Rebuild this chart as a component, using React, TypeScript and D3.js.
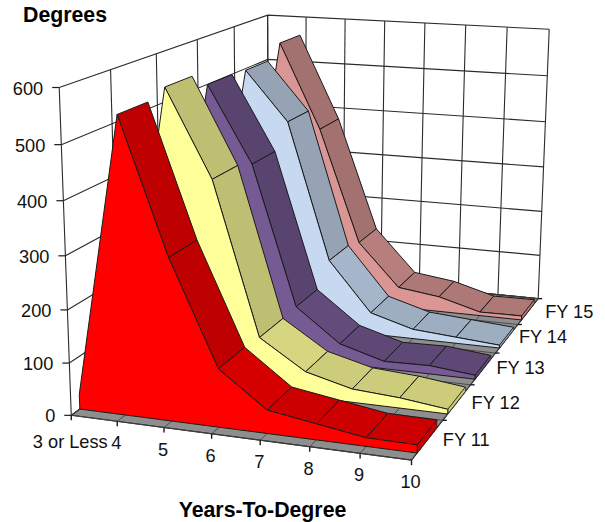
import React from "react";
import * as d3 from "d3";

const categories = ["3 or Less", "4", "5", "6", "7", "8", "9", "10"];
const seriesNames = ["FY 11", "FY 12", "FY 13", "FY 14", "FY 15"];
const fy11 = [29, 553, 305, 110, 44, 30, 16, 15];
const fy12 = [25, 568, 402, 106, 49, 26, 20, 9];
const fy13 = [25, 540, 389, 108, 41, 15, 17, 8];
const fy14 = [20, 537, 436, 150, 46, 20, 13, 6];
const fy15 = [20, 565, 383, 138, 45, 33, 8, 9];
const seriesValues = [fy11, fy12, fy13, fy14, fy15];
const frontColors = ["#FF0000", "#FFFF99", "#765A94", "#C6D9F1", "#D99694"];
const segmentShade = [0.75, 0.75, 0.75, 0.84, 0.8, 0.8, 0.8];
const valueTicks = [0, 100, 200, 300, 400, 500, 600];

// Camera fitted to the plot box corners: [x, depth, height] -> screen
const boxCorners: [number[], number[]][] = [
  [[0, 0, 0], [71, 415]],
  [[1, 0, 0], [412, 460]],
  [[1, 1, 0], [538, 299]],
  [[0, 0, 1], [59, 88]],
  [[0, 1, 1], [268, 15]],
  [[1, 1, 1], [549, 29]],
];

function solve(A: number[][], b: number[]) {
  const n = b.length;
  const M = A.map((r, i) => [...r, b[i]]);
  for (let c = 0; c < n; c++) {
    let p = c;
    for (let r = c; r < n; r++) if (Math.abs(M[r][c]) > Math.abs(M[p][c])) p = r;
    [M[c], M[p]] = [M[p], M[c]];
    for (let r = 0; r < n; r++)
      if (r !== c) {
        const f = M[r][c] / M[c][c];
        for (let k = c; k <= n; k++) M[r][k] -= f * M[c][k];
      }
  }
  return M.map((r, i) => r[n] / r[i]);
}
function fitCamera() {
  const rows: number[][] = [];
  const rhs: number[] = [];
  for (const [[x, z, y], [sx, sy]] of boxCorners) {
    rows.push([x, z, y, 1, 0, 0, 0, 0, -sx * x, -sx * z, -sx * y]);
    rhs.push(sx);
    rows.push([0, 0, 0, 0, x, z, y, 1, -sy * x, -sy * z, -sy * y]);
    rhs.push(sy);
  }
  const AtA = d3.range(11).map((i) =>
    d3.range(11).map((j) => d3.sum(rows, (r) => r[i] * r[j]) + (i === j ? 1e-6 : 0))
  );
  const Atb = d3.range(11).map((i) => d3.sum(rows, (r, k) => r[i] * rhs[k]));
  return solve(AtA, Atb);
}
const h = fitCamera();
type Pt = [number, number];
const project = (x: number, z: number, y: number): Pt => {
  const w = h[8] * x + h[9] * z + h[10] * y + 1;
  return [(h[0] * x + h[1] * z + h[2] * y + h[3]) / w, (h[4] * x + h[5] * z + h[6] * y + h[7]) / w];
};

const xScale = d3.scalePoint<string>().domain(categories).range([0, 1]);
const yScale = d3.scaleLinear().domain([0, 600]).range([0, 1]);
const zScale = d3.scaleBand<string>().domain(seriesNames).range([0, 1]);
const frontInset = 0.17;
const backInset = 0.8;
const closed = d3.line<Pt>().curve(d3.curveLinearClosed);
const open = d3.line<Pt>();
const font = "'Liberation Sans', Arial, sans-serif";
const INK = "#1a1a1a";
const LABEL = 18.2;
const TITLE = 21.3;

export default function App() {
  const xs = categories.map((c) => xScale(c) as number);
  const zEdges = [...seriesNames.map((s) => zScale(s) as number), 1];
  const seriesLabelDx = [0, 1, 1, 1, 7];
  const seriesLabelDy = [20, 18, 15, 13, 13];

  const gridLines: Pt[][] = [
    ...valueTicks.flatMap((v) => {
      const y = yScale(v);
      return [[project(0, 0, y), project(0, 1, y), project(1, 1, y)] as Pt[]];
    }),
    ...zEdges.map((z) => [project(0, z, 0), project(0, z, 1)] as Pt[]),
    ...xs.map((x) => [project(x, 1, 0), project(x, 1, 1)] as Pt[]),
  ];
  const floorLines: Pt[][] = [
    ...xs.map((x) => [project(x, 0, 0), project(x, 1, 0)] as Pt[]),
    ...zEdges.map((z) => [project(0, z, 0), project(1, z, 0)] as Pt[]),
  ];

  const order = d3.range(seriesNames.length).reverse();
  return (
    <svg width={605} height={522} style={{ position: "absolute", left: 0, top: 0 }} fontFamily={font}>
      <path d={closed([project(0, 0, 0), project(0, 1, 0), project(0, 1, 1), project(0, 0, 1)])!} fill="#fff" />
      <path d={closed([project(0, 1, 0), project(1, 1, 0), project(1, 1, 1), project(0, 1, 1)])!} fill="#fff" />
      {gridLines.map((l, i) => (
        <path key={i} d={open(l)!} fill="none" stroke="#2b2b2b" strokeWidth={1.1} />
      ))}
      <path d={closed([project(0, 0, 0), project(1, 0, 0), project(1, 1, 0), project(0, 1, 0)])!} fill="#8E8E8E" stroke={INK} strokeWidth={1.1} />
      {floorLines.map((l, i) => (
        <path key={i} d={open(l)!} fill="none" stroke="#444" strokeWidth={0.9} />
      ))}

      {order.map((s) => {
        const band = zScale.bandwidth();
        const z0 = zEdges[s];
        const zf = z0 + frontInset * band;
        const zb = z0 + backInset * band;
        const vals = seriesValues[s];
        const base = d3.rgb(frontColors[s]);
        const shade = (k: number) =>
          d3.rgb(base.r * k, base.g * k, base.b * k).formatHex();
        const frontTop = vals.map((v, i) => project(xs[i], zf, yScale(v)));
        const backTop = vals.map((v, i) => project(xs[i], zb, yScale(v)));
        const frontPoly: Pt[] = [project(0, zf, 0), ...frontTop, project(1, zf, 0)];
        const last = vals.length - 1;
        const cap: Pt[] = [frontTop[last], backTop[last], project(1, zb, 0), project(1, zf, 0)];
        return (
          <g key={s}>
            {d3.range(1, last).map((i) => (
              <path
                key={i}
                d={closed([frontTop[i], frontTop[i + 1], backTop[i + 1], backTop[i]])!}
                fill={shade(segmentShade[i])}
                stroke={INK}
                strokeWidth={1}
                strokeLinejoin="round"
              />
            ))}
            <path d={closed(cap)!} fill={shade(0.8)} stroke={INK} strokeWidth={0.6} strokeLinejoin="round" />
            <path d={closed(frontPoly)!} fill={frontColors[s]} stroke={INK} strokeWidth={1} strokeLinejoin="round" />
          </g>
        );
      })}

      {valueTicks.map((v) => {
        const [px, py] = project(0, 0, yScale(v));
        return (
          <g key={v}>
            <line x1={px - 7} x2={px} y1={py} y2={py} stroke={INK} strokeWidth={1.2} />
            <text x={px - 16} y={py + 1} textAnchor="end" dominantBaseline="central" fontSize={LABEL} fill="#111">
              {v}
            </text>
          </g>
        );
      })}
      {categories.map((c, i) => {
        const [px, py] = project(xs[i], 0, 0);
        return (
          <g key={c}>
            <line x1={px} x2={px} y1={py} y2={py + 5} stroke={INK} strokeWidth={1.4} />
            <text x={px - 1} y={py + (i === 0 ? 27 : 22)} textAnchor="middle" dominantBaseline="central" fontSize={LABEL} fill="#111">
              {c}
            </text>
          </g>
        );
      })}
      {zEdges.slice(1).map((z, i) => {
        const [px, py] = project(1, z, 0);
        return (
          <g key={z}>
            <line x1={px} x2={px + 4} y1={py} y2={py} stroke={INK} strokeWidth={1.4} />
            <text x={px + seriesLabelDx[i]} y={py + seriesLabelDy[i]} dominantBaseline="central" fontSize={LABEL} fill="#111">
              {seriesNames[i]}
            </text>
          </g>
        );
      })}
      <text x={23} y={15} dominantBaseline="central" fontSize={TITLE} fontWeight="bold" fill="#000">
        Degrees
      </text>
      <text x={262.5} y={510} textAnchor="middle" dominantBaseline="central" fontSize={TITLE} fontWeight="bold" fill="#000">
        Years-To-Degree
      </text>
    </svg>
  );
}
